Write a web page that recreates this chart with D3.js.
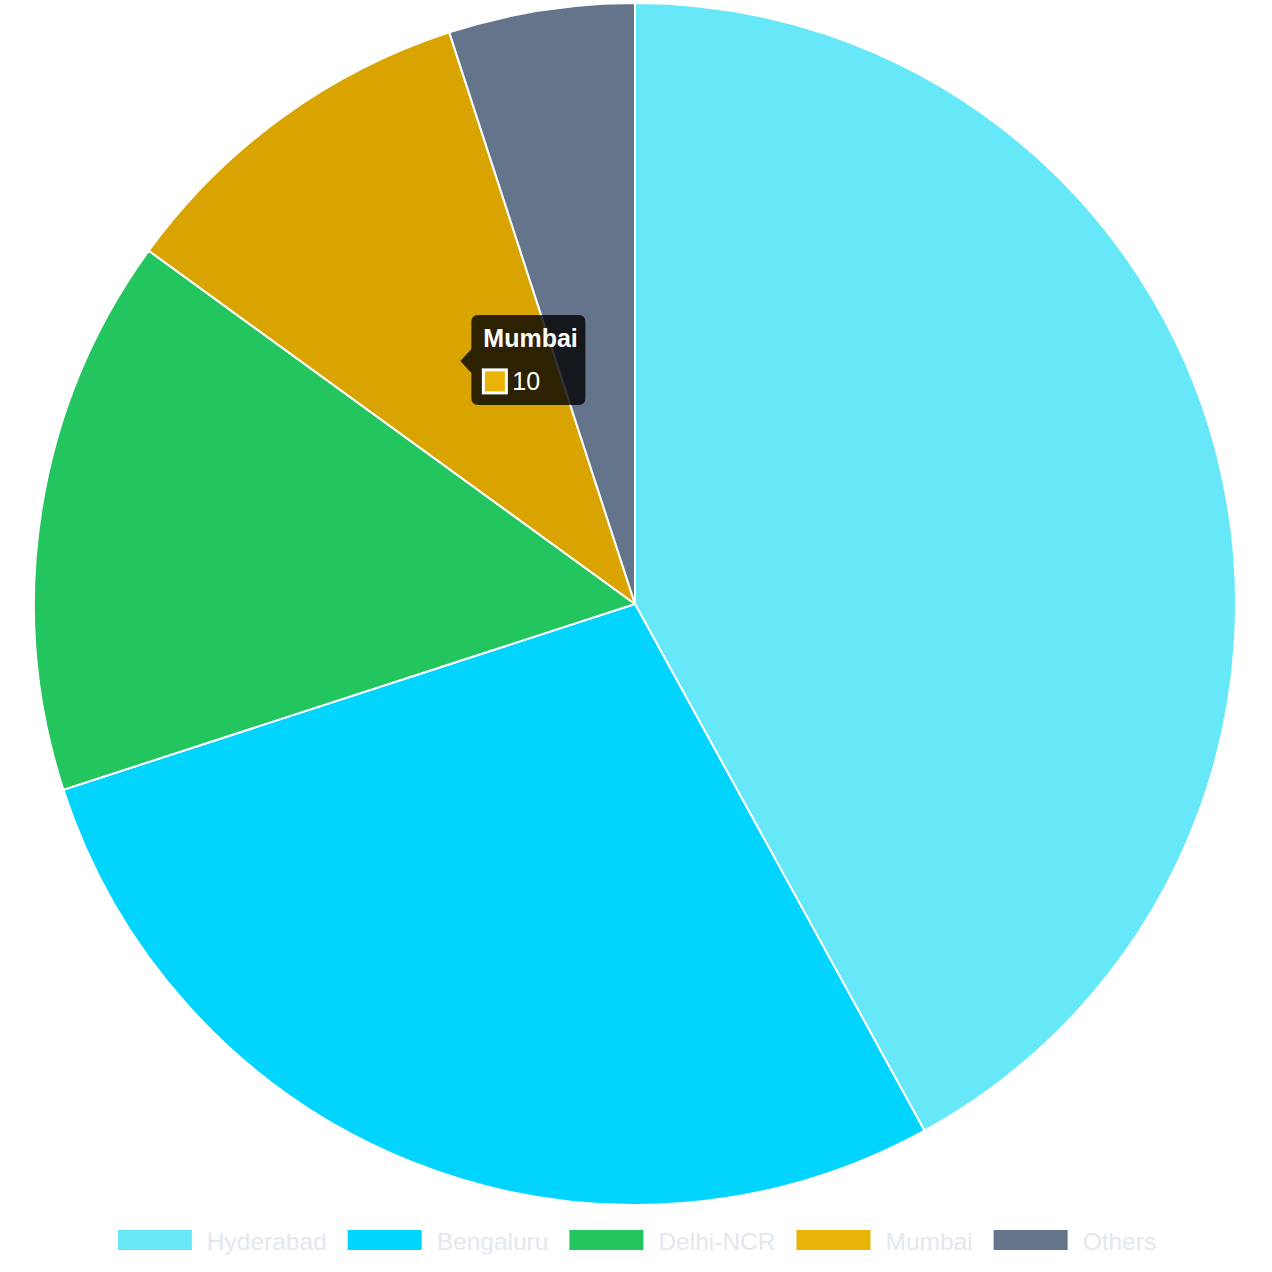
<!DOCTYPE html>
<html><head><meta charset="utf-8">
<script src="https://cdn.jsdelivr.net/npm/d3@7"></script>
<style>html,body{margin:0;padding:0;background:#fff;}svg{display:block;}</style>
</head><body>
<svg id="c" width="1272" height="1272"></svg>
<script>
const categories = ["Hyderabad", "Bengaluru", "Delhi-NCR", "Mumbai", "Others"];
const values = [42, 28, 15, 10, 5];
const colors = ["#67e8f9", "#00d4ff", "#22c55e", "#eab308", "#64748b"];
const hoverIndex = 3;
const hoverColor = "#d9a400";

const svg = d3.select("#c");
const cx = 635, cy = 604, r = 601;
const g = svg.append("g").attr("transform", `translate(${cx},${cy})`);
const pie = d3.pie().sort(null).value(d => d)(values);
const arc = d3.arc().innerRadius(0).outerRadius(r);

g.selectAll("path").data(pie).join("path")
  .attr("d", arc)
  .attr("fill", (d, i) => i === hoverIndex ? hoverColor : colors[i])
  .attr("stroke", "#fff").attr("stroke-width", 2).attr("stroke-linejoin", "round");

// legend
const font = "'Liberation Sans', Arial, Helvetica, sans-serif";
const legend = svg.append("g");
const boxW = 74, boxH = 20, gapText = 15, gapItem = 21, fs = 24.5;
const meas = svg.append("text").attr("font-family", font).attr("font-size", fs);
const widths = categories.map(c => { meas.text(c); return meas.node().getComputedTextLength(); });
meas.remove();
const total = widths.reduce((a, w) => a + boxW + gapText + w, 0) + gapItem * (categories.length - 1);
let x = 637 - total / 2;
const ly = 1230;
categories.forEach((c, i) => {
  legend.append("rect").attr("x", x).attr("y", ly).attr("width", boxW).attr("height", boxH)
    .attr("fill", colors[i]);
  legend.append("text").attr("x", x + boxW + gapText).attr("y", ly + boxH / 2 + 1)
    .attr("dominant-baseline", "central").attr("font-family", font).attr("font-size", fs)
    .attr("fill", "#e2e8f0").text(c);
  x += boxW + gapText + widths[i] + gapItem;
});

// tooltip
const [tx, ty] = arc.centroid(pie[hoverIndex]);
const px = cx + tx + 2, py = cy + ty;
const tip = svg.append("g").attr("transform", `translate(${px},${py})`);
const bx = 11, bw = 114, bh = 90, by = -bh / 2 - 1, rad = 7;
tip.append("path").attr("d",
  `M${bx + rad},${by} H${bx + bw - rad} Q${bx + bw},${by} ${bx + bw},${by + rad} V${by + bh - rad} Q${bx + bw},${by + bh} ${bx + bw - rad},${by + bh} H${bx + rad} Q${bx},${by + bh} ${bx},${by + bh - rad} V12 L0,0 L${bx},-12 V${by + rad} Q${bx},${by} ${bx + rad},${by} Z`)
  .attr("fill", "rgba(0,0,0,0.8)");
tip.append("text").attr("x", bx + 12).attr("y", by + 32).attr("font-family", font)
  .attr("font-size", 25).attr("font-weight", "bold").attr("fill", "#fff").text(categories[hoverIndex]);
tip.append("rect").attr("x", bx + 12).attr("y", by + 55).attr("width", 23).attr("height", 23)
  .attr("fill", colors[hoverIndex]).attr("stroke", "#fff").attr("stroke-width", 3);
tip.append("text").attr("x", bx + 41).attr("y", by + 75).attr("font-family", font)
  .attr("font-size", 25).attr("fill", "#fff").text(values[hoverIndex]);
</script>
</body></html>
